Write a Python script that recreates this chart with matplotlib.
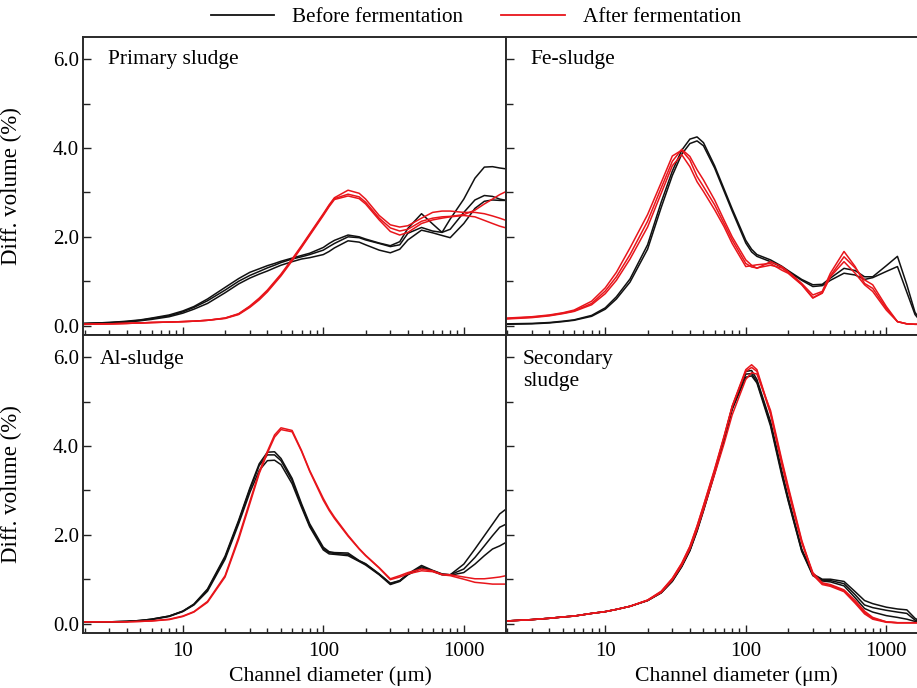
import numpy as np
import matplotlib.pyplot as plt
from matplotlib.lines import Line2D
from matplotlib.ticker import LogLocator, NullFormatter

plt.rcParams['font.family'] = ['Liberation Serif', 'DejaVu Serif']

# channel diameter (um), common grid for all curves
DIAM = [2, 3, 4, 5, 6, 8, 10, 12, 15, 20, 25, 30, 35, 40, 45, 50, 60, 70, 80,
        100, 110, 120, 150, 180, 200, 250, 300, 350, 400, 500, 600, 700, 800,
        1000, 1200, 1400, 1600, 1800, 2000]

# Primary sludge
prim_before = [
    [0.05, 0.07, 0.10, 0.13, 0.17, 0.24, 0.33, 0.43, 0.60, 0.86, 1.06, 1.20, 1.28, 1.35, 1.40, 1.45, 1.52, 1.58, 1.63,
     1.76, 1.85, 1.92, 2.04, 2.00, 1.95, 1.86, 1.80, 1.89, 2.19, 2.52, 2.29, 2.10, 2.40,
     2.85, 3.32, 3.57, 3.58, 3.55, 3.53],
    [0.05, 0.07, 0.09, 0.12, 0.16, 0.22, 0.31, 0.41, 0.56, 0.80, 1.00, 1.13, 1.22, 1.30, 1.36, 1.42, 1.50, 1.55, 1.60,
     1.70, 1.78, 1.85, 2.00, 1.98, 1.93, 1.85, 1.78, 1.82, 2.08, 2.21, 2.13, 2.10, 2.17,
     2.55, 2.83, 2.93, 2.91, 2.85, 2.82],
    [0.04, 0.06, 0.08, 0.11, 0.14, 0.20, 0.28, 0.37, 0.50, 0.74, 0.94, 1.07, 1.16, 1.23, 1.30, 1.36, 1.44, 1.50, 1.53,
     1.60, 1.67, 1.75, 1.91, 1.88, 1.82, 1.70, 1.64, 1.72, 1.93, 2.15, 2.09, 2.03, 1.98,
     2.30, 2.64, 2.80, 2.83, 2.82, 2.82],
]
prim_after = [
    [0.03, 0.04, 0.05, 0.06, 0.07, 0.08, 0.09, 0.10, 0.12, 0.17, 0.27, 0.44, 0.62, 0.80, 0.99, 1.16, 1.50, 1.80, 2.07,
     2.52, 2.72, 2.88, 3.05, 2.98, 2.85, 2.48, 2.27, 2.22, 2.25, 2.42, 2.55, 2.58, 2.58,
     2.55, 2.55, 2.52, 2.47, 2.42, 2.37],
    [0.03, 0.04, 0.05, 0.06, 0.07, 0.08, 0.09, 0.10, 0.12, 0.17, 0.26, 0.43, 0.60, 0.78, 0.97, 1.14, 1.48, 1.78, 2.05,
     2.50, 2.70, 2.86, 2.96, 2.90, 2.78, 2.42, 2.20, 2.13, 2.17, 2.35, 2.42, 2.45, 2.46,
     2.50, 2.60, 2.74, 2.85, 2.95, 3.02],
    [0.03, 0.04, 0.05, 0.06, 0.07, 0.08, 0.09, 0.10, 0.12, 0.16, 0.25, 0.41, 0.58, 0.76, 0.95, 1.12, 1.46, 1.76, 2.03,
     2.48, 2.68, 2.84, 2.92, 2.86, 2.74, 2.38, 2.12, 2.04, 2.10, 2.30, 2.38, 2.42, 2.45,
     2.48, 2.45, 2.37, 2.30, 2.24, 2.20],
]

# Fe-sludge
fe_before = [
    [0.04, 0.05, 0.07, 0.10, 0.13, 0.23, 0.40, 0.65, 1.05, 1.82, 2.78, 3.48, 3.95, 4.20, 4.25, 4.12, 3.60, 3.08, 2.63,
     1.92, 1.72, 1.60, 1.48, 1.34, 1.24, 1.04, 0.92, 0.93, 1.07, 1.29, 1.24, 1.10, 1.10,
     1.35, 1.56, 0.92, 0.30, 0.06, 0.02],
    [0.03, 0.04, 0.06, 0.09, 0.12, 0.21, 0.37, 0.60, 0.98, 1.72, 2.66, 3.38, 3.86, 4.10, 4.16, 4.05, 3.55, 3.03, 2.58,
     1.86, 1.66, 1.56, 1.44, 1.32, 1.22, 1.02, 0.88, 0.90, 1.02, 1.18, 1.14, 1.04, 1.08,
     1.22, 1.33, 0.75, 0.25, 0.05, 0.02],
]
fe_after = [
    [0.17, 0.20, 0.24, 0.29, 0.35, 0.55, 0.85, 1.20, 1.75, 2.50, 3.22, 3.82, 3.95, 3.73, 3.36, 3.13, 2.72, 2.30, 1.93,
     1.40, 1.32, 1.30, 1.36, 1.30, 1.20, 0.93, 0.63, 0.74, 1.12, 1.55, 1.30, 1.03, 0.92,
     0.43, 0.09, 0.04, 0.03, 0.03, 0.03],
    [0.16, 0.19, 0.23, 0.28, 0.33, 0.50, 0.78, 1.10, 1.60, 2.35, 3.10, 3.70, 3.97, 3.81, 3.51, 3.28, 2.83, 2.38, 2.00,
     1.48, 1.36, 1.29, 1.44, 1.33, 1.22, 0.95, 0.69, 0.77, 1.18, 1.67, 1.33, 0.95, 0.84,
     0.39, 0.09, 0.04, 0.03, 0.03, 0.03],
    [0.15, 0.18, 0.22, 0.27, 0.32, 0.47, 0.72, 1.02, 1.50, 2.22, 2.98, 3.60, 3.85, 3.58, 3.24, 3.02, 2.61, 2.23, 1.85,
     1.33, 1.35, 1.37, 1.40, 1.25, 1.18, 0.92, 0.62, 0.73, 1.10, 1.44, 1.18, 0.92, 0.77,
     0.35, 0.09, 0.04, 0.03, 0.03, 0.03],
]

# Al-sludge
al_before = [
    [0.04, 0.04, 0.05, 0.07, 0.10, 0.17, 0.28, 0.44, 0.78, 1.52, 2.33, 3.05, 3.60, 3.86, 3.87, 3.72, 3.27, 2.70, 2.25,
     1.72, 1.62, 1.60, 1.59, 1.42, 1.35, 1.12, 0.91, 0.97, 1.12, 1.31, 1.20, 1.12, 1.10,
     1.34, 1.68, 1.98, 2.24, 2.47, 2.58],
    [0.04, 0.04, 0.05, 0.07, 0.10, 0.17, 0.28, 0.43, 0.76, 1.49, 2.30, 3.02, 3.56, 3.80, 3.80, 3.67, 3.22, 2.66, 2.21,
     1.69, 1.60, 1.58, 1.56, 1.41, 1.34, 1.11, 0.90, 0.96, 1.11, 1.28, 1.19, 1.11, 1.10,
     1.23, 1.49, 1.75, 1.98, 2.17, 2.24],
    [0.04, 0.04, 0.05, 0.07, 0.09, 0.16, 0.27, 0.42, 0.73, 1.45, 2.25, 2.95, 3.45, 3.67, 3.68, 3.58, 3.15, 2.62, 2.18,
     1.66, 1.57, 1.56, 1.53, 1.40, 1.32, 1.10, 0.88, 0.95, 1.10, 1.25, 1.18, 1.10, 1.09,
     1.15, 1.34, 1.53, 1.68, 1.75, 1.83],
]
al_after = [
    [0.04, 0.04, 0.04, 0.05, 0.06, 0.10, 0.17, 0.27, 0.50, 1.08, 1.95, 2.75, 3.42, 3.88, 4.25, 4.41, 4.35, 3.90, 3.45,
     2.82, 2.58, 2.40, 1.99, 1.69, 1.54, 1.26, 1.01, 1.08, 1.15, 1.23, 1.19, 1.11, 1.10,
     1.05, 1.01, 1.01, 1.03, 1.05, 1.08],
    [0.04, 0.04, 0.04, 0.05, 0.06, 0.09, 0.16, 0.26, 0.48, 1.05, 1.90, 2.70, 3.38, 3.84, 4.20, 4.37, 4.32, 3.88, 3.43,
     2.78, 2.55, 2.37, 1.97, 1.68, 1.53, 1.25, 0.99, 1.05, 1.12, 1.19, 1.17, 1.10, 1.08,
     1.00, 0.93, 0.91, 0.89, 0.89, 0.89],
]

# Secondary sludge
sec_before = [
    [0.06, 0.09, 0.12, 0.15, 0.17, 0.23, 0.27, 0.32, 0.39, 0.52, 0.70, 0.97, 1.30, 1.66, 2.12, 2.58, 3.42, 4.18, 4.88,
     5.68, 5.70, 5.50, 4.55, 3.45, 2.85, 1.68, 1.12, 1.00, 1.00, 0.95, 0.72, 0.52, 0.45,
     0.37, 0.33, 0.31, 0.12, 0.03, 0.01],
    [0.06, 0.09, 0.12, 0.15, 0.17, 0.23, 0.27, 0.32, 0.39, 0.52, 0.70, 0.96, 1.29, 1.65, 2.10, 2.56, 3.40, 4.15, 4.85,
     5.62, 5.63, 5.45, 4.50, 3.40, 2.80, 1.65, 1.10, 0.98, 0.97, 0.90, 0.65, 0.42, 0.36,
     0.30, 0.26, 0.23, 0.08, 0.03, 0.01],
    [0.06, 0.09, 0.12, 0.15, 0.17, 0.23, 0.27, 0.32, 0.39, 0.52, 0.69, 0.95, 1.28, 1.64, 2.08, 2.54, 3.38, 4.12, 4.82,
     5.55, 5.58, 5.42, 4.45, 3.35, 2.77, 1.63, 1.08, 0.96, 0.94, 0.85, 0.58, 0.34, 0.26,
     0.18, 0.14, 0.10, 0.05, 0.02, 0.01],
]
sec_after = [
    [0.06, 0.09, 0.12, 0.15, 0.17, 0.23, 0.27, 0.32, 0.39, 0.53, 0.73, 1.02, 1.36, 1.74, 2.20, 2.66, 3.48, 4.22, 4.90,
     5.72, 5.83, 5.72, 4.75, 3.65, 3.05, 1.85, 1.15, 0.92, 0.88, 0.76, 0.52, 0.28, 0.14,
     0.04, 0.02, 0.02, 0.02, 0.02, 0.02],
    [0.06, 0.09, 0.12, 0.15, 0.17, 0.23, 0.27, 0.32, 0.39, 0.53, 0.72, 1.01, 1.35, 1.73, 2.19, 2.65, 3.46, 4.20, 4.88,
     5.68, 5.77, 5.68, 4.72, 3.60, 3.00, 1.82, 1.12, 0.90, 0.86, 0.74, 0.48, 0.25, 0.12,
     0.04, 0.02, 0.02, 0.02, 0.02, 0.02],
    [0.06, 0.09, 0.12, 0.15, 0.17, 0.23, 0.27, 0.32, 0.39, 0.52, 0.70, 0.98, 1.31, 1.68, 2.12, 2.56, 3.36, 4.05, 4.70,
     5.50, 5.65, 5.62, 4.80, 3.70, 3.10, 1.88, 1.10, 0.88, 0.84, 0.72, 0.46, 0.22, 0.10,
     0.03, 0.02, 0.02, 0.02, 0.02, 0.02],
]

PANEL_NAMES = ['Primary sludge', 'Fe-sludge', 'Al-sludge', 'Secondary\nsludge']
BEFORE = [prim_before, fe_before, al_before, sec_before]
AFTER = [prim_after, fe_after, al_after, sec_after]

BLACK = '#111111'
RED = '#e8151b'

fig = plt.figure(figsize=(9.17, 6.88), dpi=100)

W, H = 917.0, 688.0
left_x = [83.0, 505.5, 83.0, 505.5]
top_y = [37.0, 37.0, 335.0, 335.0]
pw, ph = 422.5, 297.5

axes = []
for i in range(4):
    ax = fig.add_axes([left_x[i] / W, 1 - (top_y[i] + ph) / H, pw / W, ph / H])
    axes.append(ax)
    for c in BEFORE[i]:
        ax.plot(DIAM, c, color=BLACK, lw=1.1)
    for c in AFTER[i]:
        ax.plot(DIAM, c, color=RED, lw=1.1)

    ax.set_xscale('log')
    ax.set_xlim(1.95, 1980)
    ax.set_ylim(-0.2, 6.5)
    ax.set_xticks([10, 100, 1000])
    ax.xaxis.set_minor_locator(LogLocator(base=10, subs=np.arange(2, 10)))
    ax.xaxis.set_minor_formatter(NullFormatter())
    ax.set_yticks([0, 2, 4, 6])
    ax.set_yticks([1, 3, 5], minor=True)
    ax.tick_params(which='both', direction='in', top=False, right=False,
                   width=1.0, color='#222222', labelsize=15)
    ax.tick_params(which='major', length=6)
    ax.tick_params(which='minor', length=3.5)
    ax.tick_params(axis='y', which='minor', length=5)
    ax.tick_params(axis='x', pad=7)
    ax.tick_params(axis='y', pad=3)
    for s in ax.spines.values():
        s.set_linewidth(1.4)
        s.set_color('#2a2a2a')

    if i in (0, 2):
        ax.set_yticklabels(['0.0', '2.0', '4.0', '6.0'])
        ax.set_ylabel('Diff. volume (%)', fontsize=16.5)
        ax.yaxis.set_label_coords(-0.144, 0.5)
    else:
        ax.set_yticklabels([])
    if i in (2, 3):
        ax.set_xticklabels(['10', '100', '1000'])
        ax.set_xlabel('Channel diameter (\u03bcm)', fontsize=15.7)
        ax.xaxis.set_label_coords(0.585 if i == 2 else 0.546, -0.112)
    else:
        ax.set_xticklabels([])

# panel names
axes[0].text(0.059, 0.926, PANEL_NAMES[0], transform=axes[0].transAxes, fontsize=15.5, va='center')
axes[1].text(0.060, 0.926, PANEL_NAMES[1], transform=axes[1].transAxes, fontsize=15.5, va='center')
axes[2].text(0.040, 0.919, PANEL_NAMES[2], transform=axes[2].transAxes, fontsize=15.5, va='center')
axes[3].text(0.041, 0.950, PANEL_NAMES[3], transform=axes[3].transAxes, fontsize=15.5, va='top',
             linespacing=1.22)

handles = [Line2D([], [], color=BLACK, lw=1.3), Line2D([], [], color=RED, lw=1.3)]
fig.legend(handles, ['Before fermentation', 'After fermentation'], loc='center',
           bbox_to_anchor=(0.519, 1 - 17 / H), ncol=2, frameon=False, fontsize=15.2,
           handlelength=3.0, handletextpad=0.85, columnspacing=1.8)

fig.savefig('out.png', dpi=100)
